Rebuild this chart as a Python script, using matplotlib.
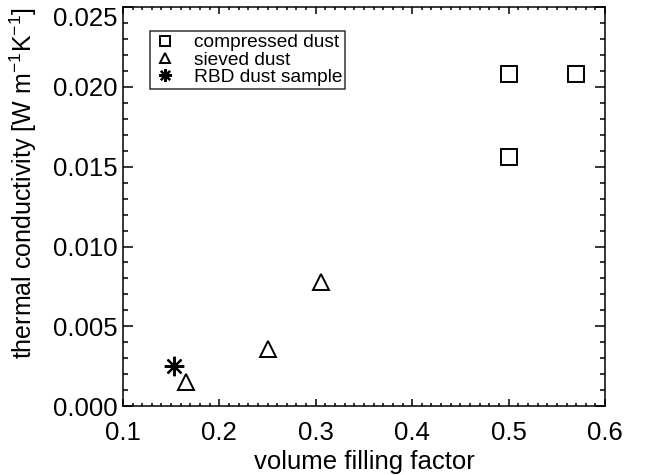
import matplotlib
matplotlib.use("Agg")
import matplotlib.pyplot as plt
from matplotlib.ticker import MultipleLocator, FormatStrFormatter
import matplotlib.transforms as mtransforms

plt.rcParams['font.family'] = ['Liberation Sans', 'DejaVu Sans']
plt.rcParams['mathtext.default'] = 'regular'

compressed_x = [0.50, 0.57, 0.50]
compressed_y = [0.0208, 0.0208, 0.0156]
sieved_x = [0.165, 0.25, 0.305]
sieved_y = [0.0015, 0.0036, 0.0078]
rbd_x = [0.153]
rbd_y = [0.0025]

fig = plt.figure(figsize=(6.57, 4.75), dpi=100)
ax = fig.add_axes([0.187, 0.145, 0.921 - 0.187, 0.985 - 0.145])

mkw = dict(linestyle='none', markerfacecolor='none', markeredgecolor='black', markeredgewidth=1.4)
ax.plot(compressed_x, compressed_y, marker='s', markersize=12, label='compressed dust', **mkw)
ax.plot(sieved_x, sieved_y, marker='^', markersize=12, label='sieved dust', **mkw)
ax.plot(rbd_x, rbd_y, marker=(8, 2, 0), markersize=14, color='black', linestyle='none',
        markeredgewidth=1.6, label='RBD dust sample')

ax.set_xlim(0.1, 0.6)
ax.set_ylim(0.0, 0.025)
ax.xaxis.set_major_locator(MultipleLocator(0.1))
ax.xaxis.set_minor_locator(MultipleLocator(0.01))
ax.yaxis.set_major_locator(MultipleLocator(0.005))
ax.yaxis.set_minor_locator(MultipleLocator(0.001))
ax.xaxis.set_major_formatter(FormatStrFormatter('%.1f'))
ax.yaxis.set_major_formatter(FormatStrFormatter('%.3f'))

ax.tick_params(which='both', direction='in', top=True, right=True, width=1.1, labelsize=18.5, color='black')
ax.tick_params(axis='x', which='major', length=5, pad=11)
ax.tick_params(axis='x', which='minor', length=2.5)
ax.tick_params(axis='y', which='major', length=7, pad=4)
ax.tick_params(axis='y', which='minor', length=3.5)
for s in ax.spines.values():
    s.set_linewidth(1.1)

ax.set_xlabel('volume filling factor', fontsize=18.5, labelpad=3)
ax.set_ylabel('thermal conductivity [W m$^{-1}$K$^{-1}$]', fontsize=18, labelpad=10)
ax.yaxis.label.set_y(0.56)

leg = ax.legend(loc='upper left', bbox_to_anchor=(0.056, 0.94), fontsize=13.8, markerscale=0.65,
                handlelength=1.3, handletextpad=0.85, borderpad=0.15, borderaxespad=0,
                labelspacing=0.0, frameon=True, fancybox=False, edgecolor='black')
leg.get_frame().set_linewidth(1.1)

# keep the topmost y tick label inside the figure (as in the reference)
fig.canvas.draw()
for t in ax.yaxis.get_major_ticks():
    if abs(t.get_loc() - 0.025) < 1e-9:
        t.label1.set_transform(t.label1.get_transform() +
                               mtransforms.ScaledTranslation(0, -7 / 72, fig.dpi_scale_trans))

fig.savefig('out.png', dpi=100)
